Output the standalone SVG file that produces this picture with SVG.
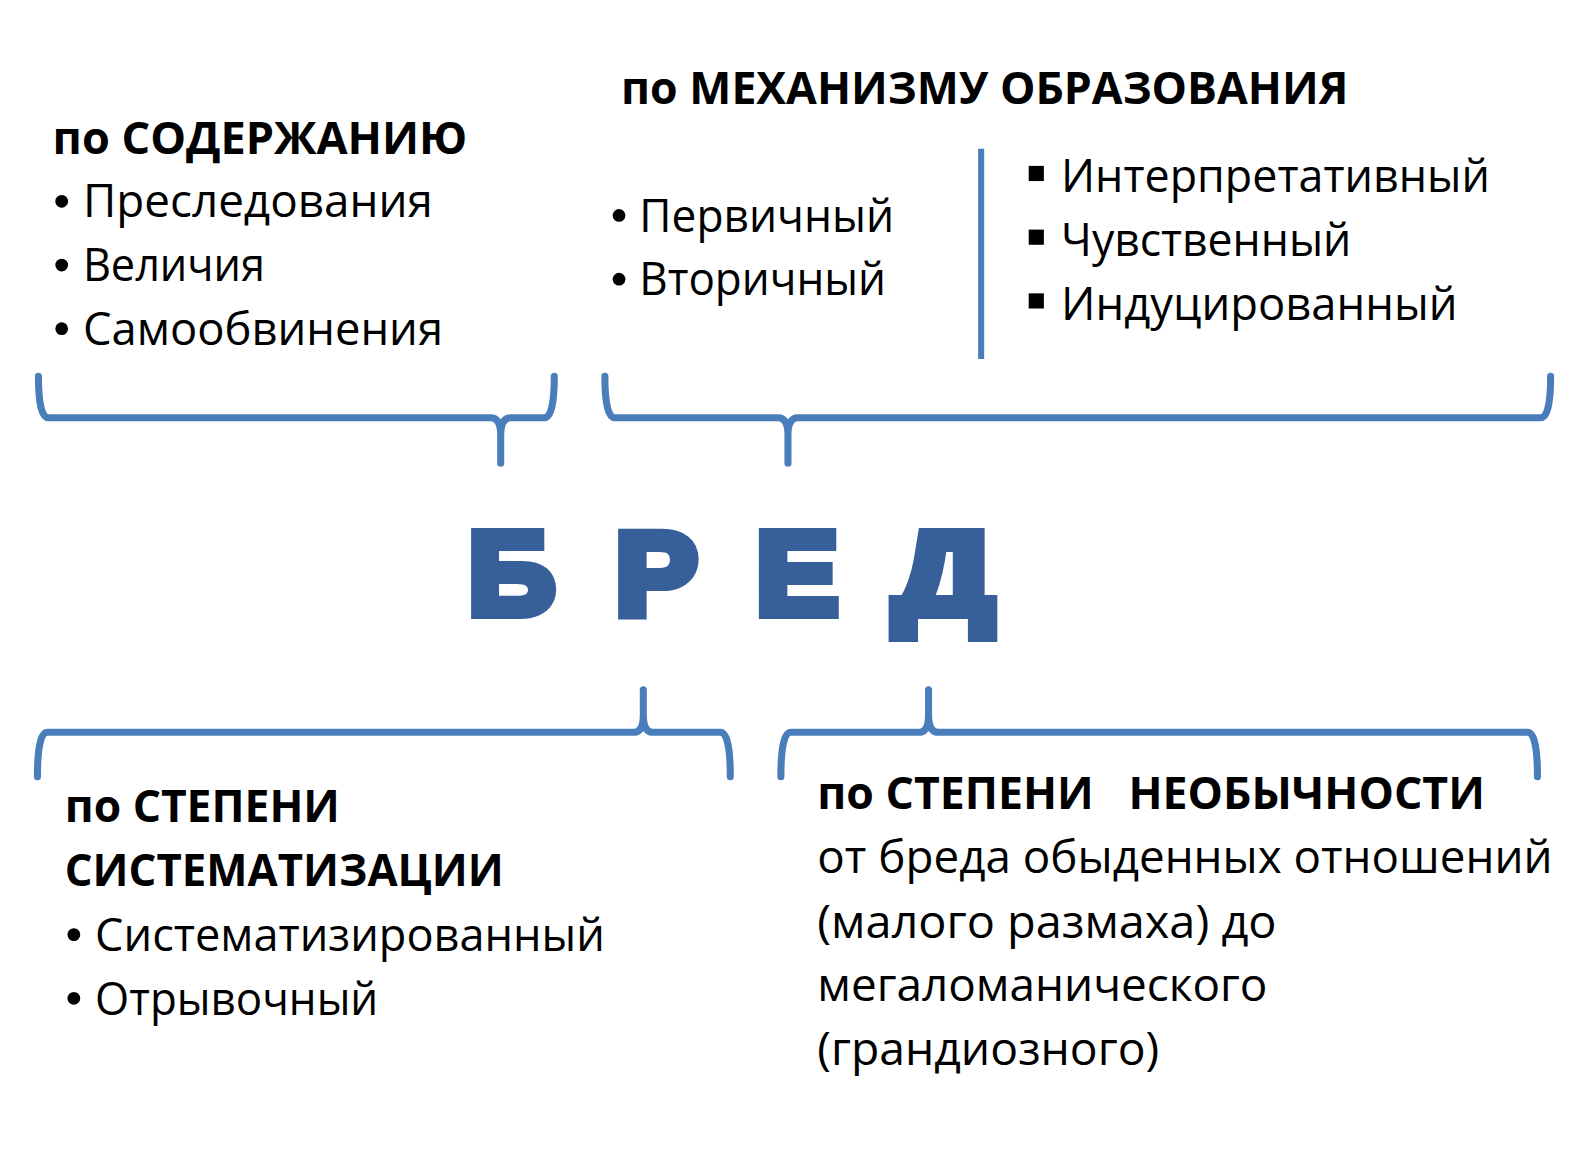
<svg xmlns="http://www.w3.org/2000/svg" width="1586" height="1150" viewBox="0 0 1586 1150">
<style>
.t{font-family:"Open Sans","Noto Sans","DejaVu Sans",sans-serif;font-size:46px;fill:#000}
.h{font-family:"Open Sans","Noto Sans","DejaVu Sans",sans-serif;font-size:45px;font-weight:bold;fill:#000}
.br{fill:none;stroke:#4a7ebb;stroke-width:7;stroke-linecap:round;stroke-linejoin:round}
.dot{fill:#000}
.title{font-family:"Liberation Sans",Arial,sans-serif;font-size:115px;font-weight:bold;fill:#37609a;stroke:#37609a;stroke-width:10;stroke-linejoin:miter;text-anchor:middle}
</style>
<rect width="1586" height="1150" fill="#fff"/>
<g transform="scale(1.0115)">
<g id="connectors">
<path class="br" d="M38,372 Q38,413 48,413 L485,413 Q495,413 495,430 L495,458 M495,430 Q495,413 505,413 L538,413 Q548,413 548,372"/>
<path class="br" d="M598,372 Q598,413 608,413 L769,413 Q779,413 779,430 L779,458 M779,430 Q779,413 789,413 L1523,413 Q1533,413 1533,372"/>
<path class="br" d="M37,768 Q37,724 47,724 L626,724 Q636,724 636,707 L636,682 M636,707 Q636,724 646,724 L712,724 Q722,724 722,768"/>
<path class="br" d="M772,768 Q772,724 782,724 L908,724 Q918,724 918,707 L918,682 M918,707 Q918,724 928,724 L1510,724 Q1520,724 1520,768"/>
<line x1="970" y1="147" x2="970" y2="355" stroke="#4a7ebb" stroke-width="6"/>
</g>
<g id="center">
<text class="title" transform="translate(506,607) scale(1.04,1)">Б</text>
<text class="title" transform="translate(649,607) scale(1.06,1)">Р</text>
<text class="title" transform="translate(788,607) scale(1.06,1)">Е</text>
<text class="title" transform="translate(933,607) scale(1.21,1)">Д</text>
</g>
<g id="content">
<text class="h" x="52" y="152" textLength="410" lengthAdjust="spacingAndGlyphs">по СОДЕРЖАНИЮ</text>
<circle class="dot" cx="61" cy="199" r="6.3"/><text class="t" x="82" y="215" textLength="346" lengthAdjust="spacingAndGlyphs">Преследования</text>
<circle class="dot" cx="61" cy="262" r="6.3"/><text class="t" x="82" y="278" textLength="180" lengthAdjust="spacingAndGlyphs">Величия</text>
<circle class="dot" cx="61" cy="325" r="6.3"/><text class="t" x="82" y="341" textLength="356" lengthAdjust="spacingAndGlyphs">Самообвинения</text>
</g>
<g id="mechanism">
<text class="h" x="614" y="103" textLength="719" lengthAdjust="spacingAndGlyphs">по МЕХАНИЗМУ ОБРАЗОВАНИЯ</text>
<circle class="dot" cx="612" cy="213" r="6.3"/><text class="t" x="632" y="229" textLength="252" lengthAdjust="spacingAndGlyphs">Первичный</text>
<circle class="dot" cx="612" cy="276" r="6.3"/><text class="t" x="632" y="292" textLength="244" lengthAdjust="spacingAndGlyphs">Вторичный</text>
<rect x="1017" y="164" width="15" height="15" fill="#000"/><text class="t" x="1049" y="190" textLength="424" lengthAdjust="spacingAndGlyphs">Интерпретативный</text>
<rect x="1017" y="227" width="15" height="15" fill="#000"/><text class="t" x="1049" y="253" textLength="287" lengthAdjust="spacingAndGlyphs">Чувственный</text>
<rect x="1017" y="290" width="15" height="15" fill="#000"/><text class="t" x="1049" y="316" textLength="392" lengthAdjust="spacingAndGlyphs">Индуцированный</text>
</g>
<g id="systematization">
<text class="h" x="64" y="813" textLength="272" lengthAdjust="spacingAndGlyphs">по СТЕПЕНИ</text>
<text class="h" x="64" y="876" textLength="434" lengthAdjust="spacingAndGlyphs">СИСТЕМАТИЗАЦИИ</text>
<circle class="dot" cx="73" cy="924" r="6.3"/><text class="t" x="94" y="940" textLength="504" lengthAdjust="spacingAndGlyphs">Систематизированный</text>
<circle class="dot" cx="73" cy="987" r="6.3"/><text class="t" x="94" y="1003" textLength="280" lengthAdjust="spacingAndGlyphs">Отрывочный</text>
</g>
<g id="unusualness">
<text class="h" x="808" y="800" textLength="660" lengthAdjust="spacingAndGlyphs" xml:space="preserve">по СТЕПЕНИ   НЕОБЫЧНОСТИ</text>
<text class="t" x="808" y="863" textLength="727" lengthAdjust="spacingAndGlyphs">от бреда обыденных отношений</text>
<text class="t" x="808" y="927" textLength="454" lengthAdjust="spacingAndGlyphs">(малого размаха) до</text>
<text class="t" x="808" y="990" textLength="445" lengthAdjust="spacingAndGlyphs">мегаломанического</text>
<text class="t" x="808" y="1053" textLength="338" lengthAdjust="spacingAndGlyphs">(грандиозного)</text>
</g>
</g>
</svg>
